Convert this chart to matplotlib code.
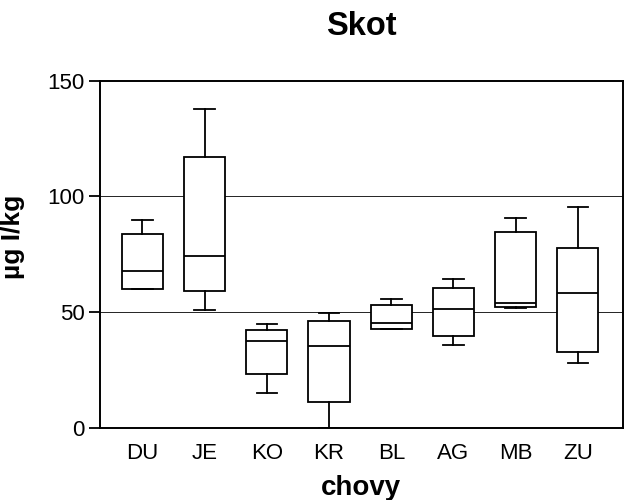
import matplotlib
matplotlib.use('Agg')
import matplotlib.pyplot as plt

plt.rcParams['font.family'] = ['Liberation Sans', 'DejaVu Sans']

# chovy (breeds) and box statistics
chovy = ['DU', 'JE', 'KO', 'KR', 'BL', 'AG', 'MB', 'ZU']
whislo = [60.0, 50.9, 15.2, 0.0, 42.8, 35.8, 51.8, 28.1]
q1 = [60.1, 59.0, 23.1, 11.0, 42.8, 39.8, 52.3, 32.9]
med = [67.9, 74.1, 37.6, 35.5, 45.4, 51.3, 53.8, 58.4]
q3 = [83.7, 116.9, 42.2, 46.3, 53.2, 60.4, 84.6, 77.8]
whishi = [89.8, 137.8, 44.7, 49.7, 55.5, 64.3, 90.8, 95.6]

stats = []
for i in range(len(chovy)):
    stats.append({'label': chovy[i], 'whislo': whislo[i], 'q1': q1[i],
                  'med': med[i], 'q3': q3[i], 'whishi': whishi[i], 'fliers': []})

fig = plt.figure(figsize=(6.24, 5.0), dpi=100)
ax = fig.add_axes([0.1603, 0.1446, 0.8377, 0.694])

lw = 1.3
ax.bxp(stats, positions=range(1, len(chovy) + 1), widths=0.66,
       patch_artist=True, showfliers=False,
       boxprops=dict(facecolor='white', edgecolor='black', linewidth=lw),
       medianprops=dict(color='black', linewidth=lw),
       whiskerprops=dict(color='black', linewidth=lw),
       capprops=dict(color='black', linewidth=lw),
       zorder=3)

for yv in [50, 100]:
    ax.axhline(yv, color='black', linewidth=0.6, zorder=1)

ax.set_xlim(0.32, 8.72)
ax.set_ylim(0, 150)
ax.set_yticks([0, 50, 100, 150])
ax.set_xticks(range(1, len(chovy) + 1))
ax.set_xticklabels(chovy)

for s in ax.spines.values():
    s.set_linewidth(1.4)

ax.tick_params(axis='y', direction='out', length=8, width=1.3, pad=3, labelsize=16)
ax.tick_params(axis='x', length=0, pad=11, labelsize=16)

ax.set_title('Skot', fontsize=23.5, fontweight='bold', pad=33)
ax.set_xlabel('chovy', fontsize=20, fontweight='bold', labelpad=8)
ax.set_ylabel('µg I/kg', fontsize=19, fontweight='bold')
ax.yaxis.set_label_coords(-0.143, 0.55)

fig.savefig('out.png', dpi=100)
